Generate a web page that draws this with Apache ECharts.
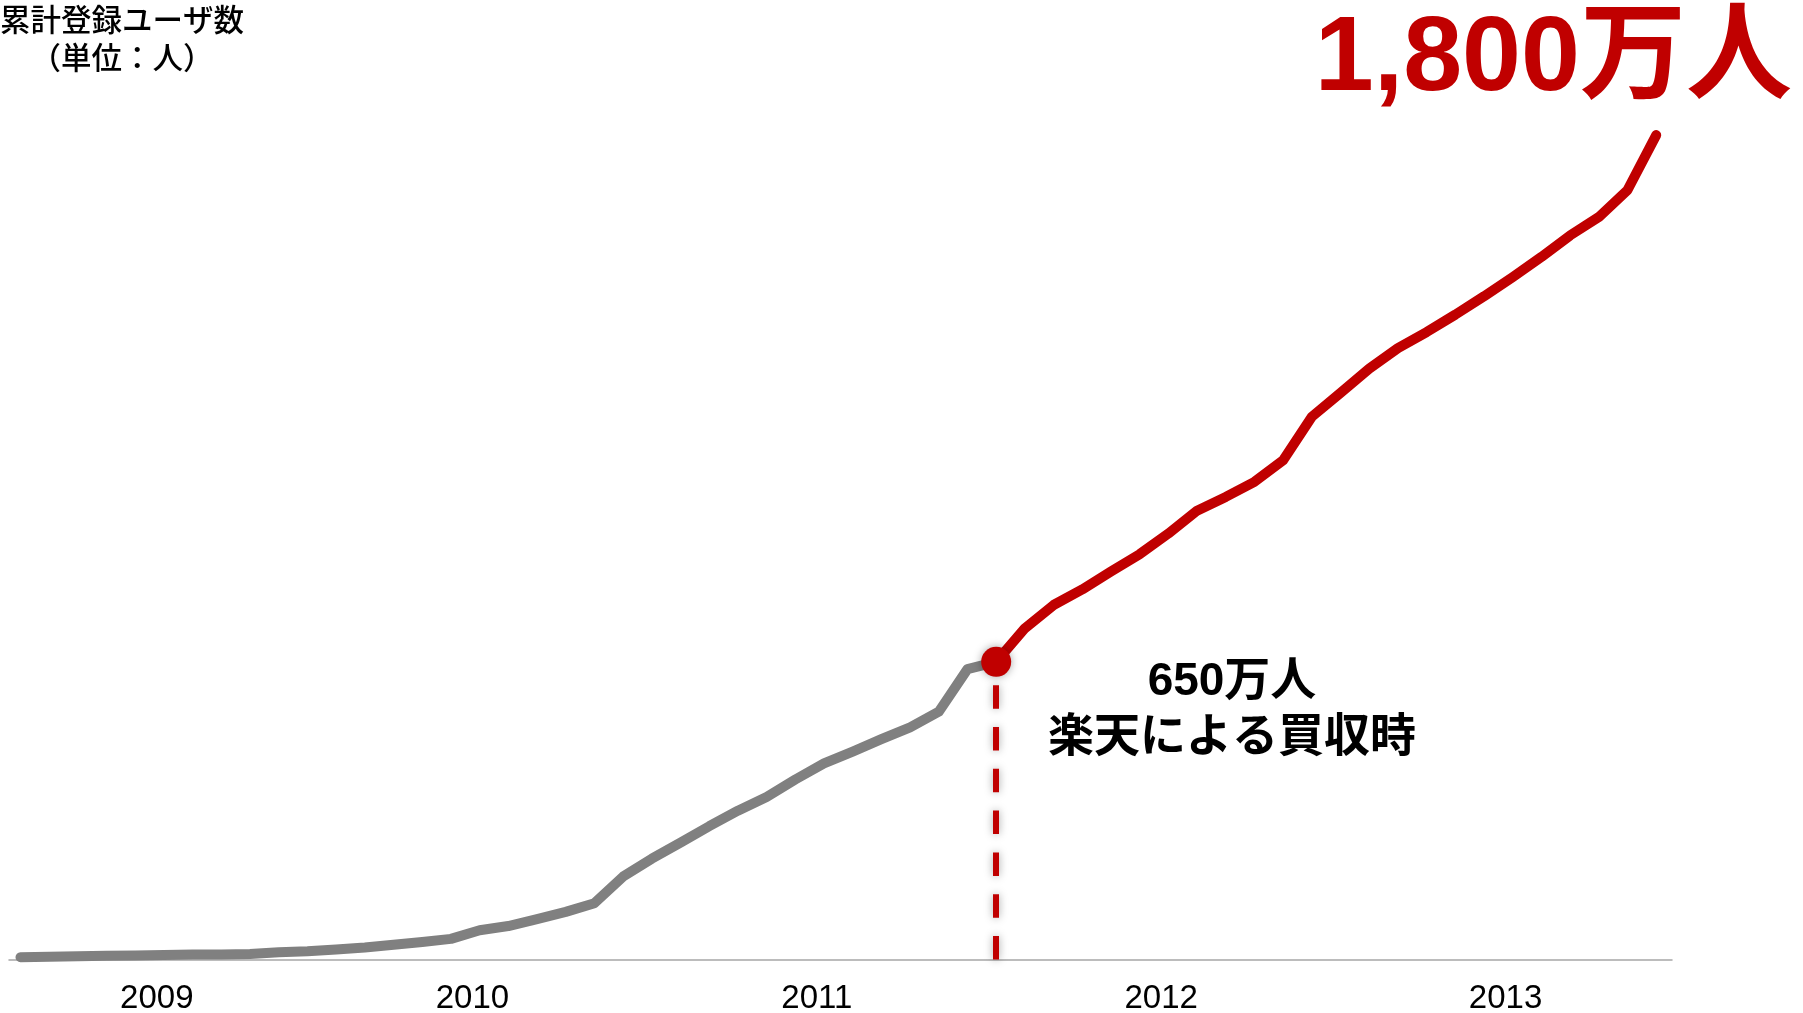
<!DOCTYPE html>
<html lang="ja">
<head>
<meta charset="utf-8">
<title>累計登録ユーザ数</title>
<script src="https://cdn.jsdelivr.net/npm/echarts@6/dist/echarts.min.js"></script>
<style>
  html, body { margin: 0; padding: 0; background: #ffffff; }
  #chart { width: 1803px; height: 1013px; }
</style>
</head>
<body>
<div id="chart"></div>
<script>
// Months covered by the series (one point per month)
const months = [
  '2009-03', '2009-04', '2009-05', '2009-06', '2009-07', '2009-08', '2009-09', '2009-10', '2009-11', '2009-12',
  '2010-01', '2010-02', '2010-03', '2010-04', '2010-05', '2010-06', '2010-07', '2010-08', '2010-09', '2010-10', '2010-11', '2010-12',
  '2011-01', '2011-02', '2011-03', '2011-04', '2011-05', '2011-06', '2011-07', '2011-08', '2011-09', '2011-10', '2011-11', '2011-12',
  '2012-01', '2012-02', '2012-03', '2012-04', '2012-05', '2012-06', '2012-07', '2012-08', '2012-09', '2012-10', '2012-11', '2012-12',
  '2013-01', '2013-02', '2013-03', '2013-04', '2013-05', '2013-06', '2013-07', '2013-08', '2013-09', '2013-10', '2013-11', '2013-12'
];

// Cumulative registered users, in 万人
const users = [
  5, 6, 7, 8, 9, 10, 11, 11, 12, 16,
  18, 22, 26, 32, 38, 45, 64, 73, 88, 104, 123, 181,
  220, 255, 291, 325, 355, 393, 428, 454, 481, 507, 541, 634,
  650, 723, 774, 808, 847, 885, 930, 980, 1010, 1043, 1090, 1185,
  1237, 1290, 1335, 1370, 1408, 1448, 1490, 1534, 1581, 1621, 1680, 1800
];

// Month of the acquisition by Rakuten
const acquisitionMonth = '2012-01';

// Year tick labels along the bottom
const years = ['2009', '2010', '2011', '2012', '2013'];

const RED = '#C00000';
const GREY = '#808080';
const acqIndex = months.indexOf(acquisitionMonth);
const lastIndex = users.length - 1;

// Each year label sits at the middle of that year's months
const yearPositions = years.map(y => {
  const idx = months.map((m, i) => (m.startsWith(y) ? i : -1)).filter(i => i >= 0);
  return (idx[0] + idx[idx.length - 1]) / 2 + 0.25;
});

const beforeData = users.slice(0, acqIndex + 1).map((v, i) => [i, v]);
const afterData = users.slice(acqIndex).map((v, i) => [acqIndex + i, v]);

const headlineText = users[lastIndex].toLocaleString('en-US') + '万人';
const acqText = users[acqIndex] + '万人\n楽天による買収時';

const chart = echarts.init(document.getElementById('chart'), null, { renderer: 'canvas' });

chart.setOption({
  backgroundColor: '#ffffff',
  animation: false,
  grid: {
    left: 9,
    right: 131,
    top: 43.5,
    bottom: 53.5,
    containLabel: false,
    outerBoundsMode: 'none'
  },
  xAxis: {
    type: 'value',
    min: -0.4,
    max: 57.55,
    axisLine: { show: true, lineStyle: { color: '#A6A6A6', width: 1.5 } },
    axisTick: { show: false },
    splitLine: { show: false },
    axisLabel: {
      customValues: yearPositions,
      formatter: v => {
        const k = yearPositions.findIndex(p => Math.abs(p - v) < 1e-6);
        return k >= 0 ? years[k] : '';
      },
      margin: 23,
      color: '#000000',
      fontSize: 33,
      fontFamily: "'Liberation Sans', Arial, sans-serif"
    }
  },
  yAxis: {
    type: 'value',
    min: 0,
    max: 2000,
    show: false
  },
  series: [
    {
      name: 'before',
      type: 'line',
      data: beforeData,
      symbol: 'none',
      z: 2,
      lineStyle: { color: GREY, width: 10, cap: 'round', join: 'round' }
    },
    {
      name: 'after',
      type: 'line',
      data: afterData,
      symbol: 'none',
      z: 3,
      lineStyle: { color: RED, width: 10, cap: 'round', join: 'round' },
      markLine: {
        silent: true,
        symbol: ['none', 'none'],
        label: { show: false },
        lineStyle: {
          color: RED,
          width: 6,
          opacity: 1,
          type: [23.5, 18.3],
          shadowColor: 'rgba(0,0,0,0.35)',
          shadowBlur: 8
        },
        data: [[
          { coord: [acqIndex, 0] },
          { coord: [acqIndex, users[acqIndex]] }
        ]]
      }
    },
    {
      name: 'acquisition',
      type: 'scatter',
      data: [[acqIndex, users[acqIndex]]],
      symbol: 'circle',
      symbolSize: 30,
      z: 5,
      itemStyle: {
        color: RED,
        opacity: 1,
        shadowColor: 'rgba(0,0,0,0.35)',
        shadowBlur: 8
      }
    }
  ],
  graphic: [
    {
      type: 'text',
      x: 122,
      y: 0,
      style: {
        text: '累計登録ユーザ数\n（単位：人）',
        fill: '#000000',
        fontSize: 30.5,
        lineHeight: 38,
        fontWeight: 500,
        fontFamily: "'Noto Sans CJK JP', sans-serif",
        align: 'center',
        verticalAlign: 'top'
      }
    },
    {
      type: 'text',
      x: 1792,
      y: 61,
      style: {
        text: headlineText,
        fill: RED,
        fontSize: 106,
        fontWeight: 'bold',
        fontFamily: "'Liberation Sans', 'Noto Sans CJK JP', sans-serif",
        align: 'right',
        verticalAlign: 'middle'
      }
    },
    {
      type: 'text',
      x: 1232,
      y: 710,
      style: {
        text: acqText,
        fill: '#000000',
        fontSize: 46,
        lineHeight: 56,
        fontWeight: 'bold',
        fontFamily: "'Liberation Sans', 'Noto Sans CJK JP', sans-serif",
        align: 'center',
        verticalAlign: 'middle'
      }
    }
  ]
});
</script>
</body>
</html>
